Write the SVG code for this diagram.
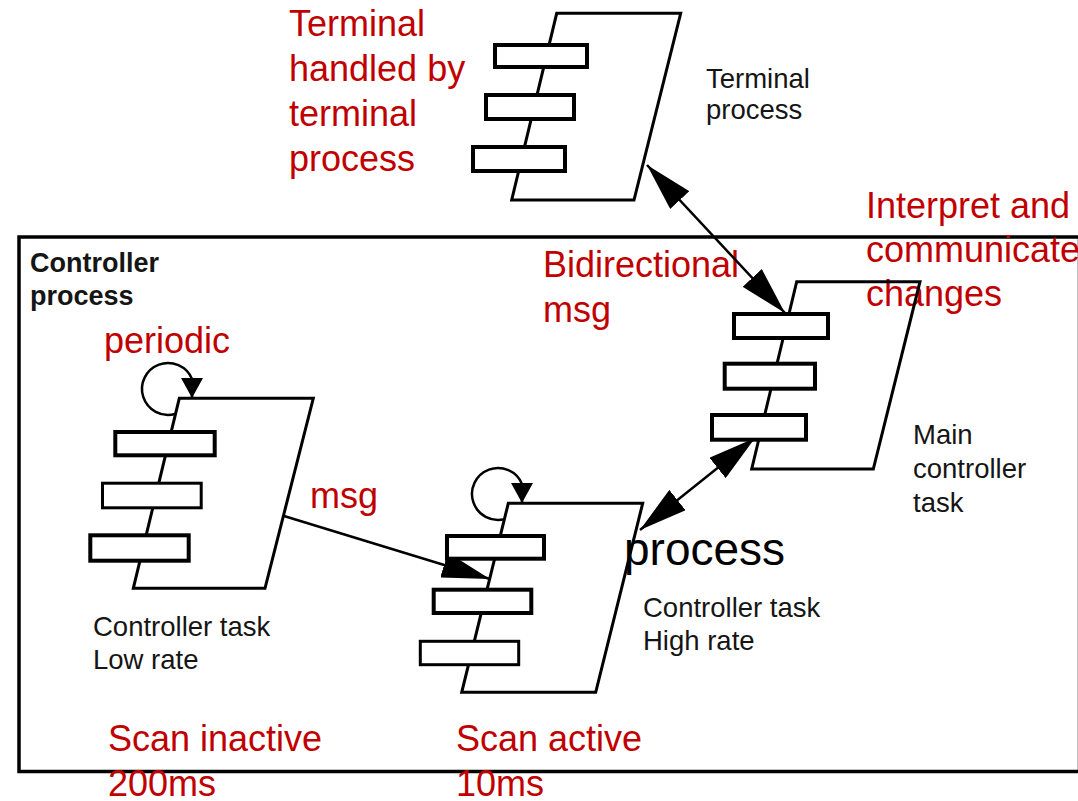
<svg xmlns="http://www.w3.org/2000/svg" width="1078" height="801" viewBox="0 0 1078 801">
  <style>
    .frame { fill: none; stroke: #000; stroke-width: 3.5; }
    .body { fill: none; stroke: #000; stroke-width: 3; stroke-linejoin: miter; }
    .slot { fill: #fff; stroke: #000; stroke-width: 4; }
    .slot-thin { fill: #fff; stroke: #000; stroke-width: 3; }
    .link { fill: none; stroke: #000; stroke-width: 2.5; }
    .loop { fill: none; stroke: #000; stroke-width: 2.5; }
    .note { font-family: "Liberation Sans", Arial, sans-serif; font-size: 36px; fill: #c00000; }
    .label { font-family: "Liberation Sans", Arial, sans-serif; font-size: 27.5px; fill: #151515; }
    .title { font-family: "Liberation Sans", Arial, sans-serif; font-size: 27px; font-weight: bold; fill: #151515; }
    .big { font-family: "Liberation Sans", Arial, sans-serif; font-size: 46px; fill: #000; }
  </style>
  <defs>
    <marker id="head" viewBox="0 0 48 26" refX="48" refY="13" markerWidth="48" markerHeight="26" markerUnits="userSpaceOnUse" orient="auto-start-reverse">
      <path d="M0,0 L48,13 L0,26 Z" fill="#000"/>
    </marker>
    <marker id="loopHead" viewBox="0 0 20 22" refX="20" refY="11" markerWidth="20" markerHeight="22" markerUnits="userSpaceOnUse" orient="auto">
      <path d="M0,0 L20,11 L0,22 Z" fill="#000"/>
    </marker>
  </defs>

  <rect width="1078" height="801" fill="#fff"/>

  <!-- controller process boundary -->
  <rect class="frame" x="19" y="237" width="1060.5" height="534.5"/>

  <!-- annotations -->
  <g id="annotations">
    <text class="note" x="289" y="36">Terminal</text>
    <text class="note" x="289" y="81">handled by</text>
    <text class="note" x="289" y="126">terminal</text>
    <text class="note" x="289" y="171">process</text>
    <text class="note" x="866" y="218">Interpret and</text>
    <text class="note" x="866" y="262">communicate</text>
    <text class="note" x="866" y="306">changes</text>
    <text class="note" x="543" y="277">Bidirectional</text>
    <text class="note" x="543" y="322">msg</text>
    <text class="note" x="104" y="353">periodic</text>
    <text class="note" x="310" y="508">msg</text>
    <text class="note" x="108" y="751">Scan inactive</text>
    <text class="note" x="108" y="796">200ms</text>
    <text class="note" x="456" y="751">Scan active</text>
    <text class="note" x="456" y="796">10ms</text>
    <text class="big" x="624" y="565">process</text>
    <text class="title" x="30" y="272">Controller</text>
    <text class="title" x="30" y="305">process</text>
  </g>

  <!-- connectors -->
  <g id="connectors">
    <line class="link" x1="647" y1="165" x2="785" y2="313" marker-start="url(#head)" marker-end="url(#head)"/>
    <line class="link" x1="640" y1="530" x2="755" y2="438" marker-start="url(#head)" marker-end="url(#head)"/>
    <line class="link" x1="284" y1="516" x2="490" y2="579" marker-end="url(#head)"/>
    <path class="loop" d="M175,414 A26,26 0 1 1 192,379 L192,398" marker-end="url(#loopHead)"/>
    <path class="loop" d="M505,519 A26,26 0 1 1 522,484 L522,503" marker-end="url(#loopHead)"/>
  </g>

  <!-- terminal process -->
  <g id="terminal-process">
    <polygon class="body" points="556.7,13.3 680.7,13.3 634,200 511.7,200"/>
    <rect class="slot" x="495" y="45" width="92" height="22"/>
    <rect class="slot" x="486" y="95" width="88" height="24"/>
    <rect class="slot" x="473" y="147" width="92" height="24"/>
    <text class="label" x="706" y="87.5">Terminal</text>
    <text class="label" x="706" y="119">process</text>
  </g>

  <!-- main controller task -->
  <g id="main-controller">
    <polygon class="body" points="796.7,281.7 920,281.7 873.3,469 751.7,469"/>
    <rect class="slot" x="734" y="314" width="94" height="24"/>
    <rect class="slot" x="724.7" y="363.7" width="90.3" height="25"/>
    <rect class="slot" x="712" y="415" width="94" height="24.7"/>
    <text class="label" x="913" y="444">Main</text>
    <text class="label" x="913" y="478">controller</text>
    <text class="label" x="913" y="511.5">task</text>
  </g>

  <!-- low rate controller task -->
  <g id="low-rate-task">
    <polygon class="body" points="179.3,398.3 313.3,398.3 265,588.3 133.3,588.3"/>
    <rect class="slot" x="115.3" y="432" width="99.4" height="23.3"/>
    <rect class="slot-thin" x="102.5" y="483.2" width="98.7" height="24.6"/>
    <rect class="slot" x="90.3" y="535.3" width="98.4" height="25.4"/>
    <text class="label" x="93" y="636">Controller task</text>
    <text class="label" x="93" y="669">Low rate</text>
  </g>

  <!-- high rate controller task -->
  <g id="high-rate-task">
    <polygon class="body" points="508.3,503.3 642.7,503.3 595.7,692.3 461.7,692.3"/>
    <rect class="slot" x="447" y="536" width="97" height="22.7"/>
    <rect class="slot" x="433.7" y="589.7" width="97.6" height="23.3"/>
    <rect class="slot-thin" x="420.3" y="641.3" width="98.4" height="23.4"/>
    <text class="label" x="643" y="617">Controller task</text>
    <text class="label" x="643" y="650">High rate</text>
  </g>
</svg>
